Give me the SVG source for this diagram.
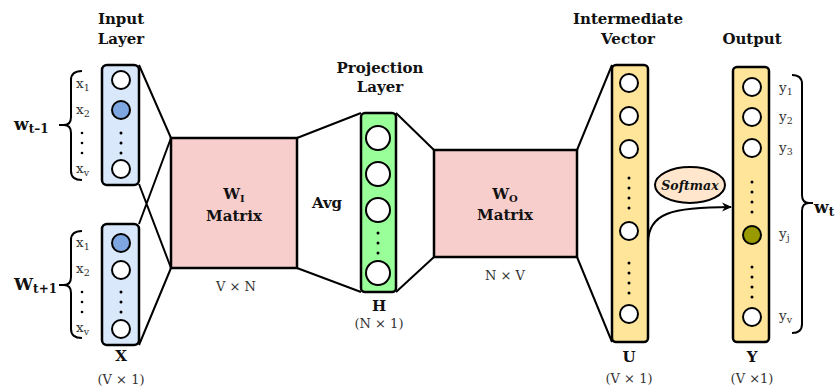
<svg xmlns="http://www.w3.org/2000/svg" width="839" height="391" viewBox="0 0 839 391">
<style>
.hd{font-family:"DejaVu Serif",serif;font-weight:bold;font-size:15px;fill:#111;text-anchor:middle}
.lb{font-family:"DejaVu Serif",serif;font-size:13px;fill:#333;text-anchor:middle}
.lbl{font-family:"DejaVu Serif",serif;font-size:13.5px;fill:#333}
.sub{font-size:9.5px}
.bx{stroke:#000;stroke-width:2.5}
.ln{stroke:#000;stroke-width:2;fill:none}
.c{fill:#fff;stroke:#000;stroke-width:2}
.dot{fill:#000}
.br{fill:none;stroke:#000;stroke-width:2}
</style>
<defs>
<marker id="ah" markerWidth="10" markerHeight="10" refX="9" refY="5" orient="auto" markerUnits="userSpaceOnUse">
<path d="M0,0.5 L10,5 L0,9.5 L3,5 Z" fill="#000"/>
</marker>
</defs>

<g id="connectors">
<path class="ln" d="M139,65 L171,138 M139,184 L171,268 M139,224 L171,138 M139,345 L171,268"/>
<path class="ln" d="M297,138 L361,113 M297,268 L361,292"/>
<path class="ln" d="M396,113 L434,150 M396,292 L434,257"/>
<path class="ln" d="M577,150 L612,65 M577,257 L612,342"/>
<path class="ln" d="M648,243 C648,213 672,207 731,207" marker-end="url(#ah)"/>
</g>

<g id="input-layer">
<text class="hd" x="121" y="24">Input</text>
<text class="hd" x="121" y="44">Layer</text>
</g>

<g id="input1">
<rect class="bx" x="102" y="65" width="37" height="120" rx="5" fill="#dae8fc"/>
<circle class="c" cx="121" cy="80" r="9"/>
<circle class="c" cx="121" cy="110" r="9" style="fill:#7ea6e0"/>
<circle class="dot" cx="121" cy="133" r="1.5"/><circle class="dot" cx="121" cy="143" r="1.5"/><circle class="dot" cx="121" cy="153" r="1.5"/>
<circle class="c" cx="121" cy="169" r="9"/>
<text class="lbl" x="76" y="88">x<tspan class="sub" dy="3">1</tspan></text>
<text class="lbl" x="76" y="114">x<tspan class="sub" dy="3">2</tspan></text>
<circle class="dot" cx="82" cy="133" r="1.3"/><circle class="dot" cx="82" cy="143" r="1.3"/><circle class="dot" cx="82" cy="153" r="1.3"/>
<text class="lbl" x="76" y="173">x<tspan class="sub" dy="3">v</tspan></text>
<path class="br" d="M82,71 Q71,71 71,80 L71,117 Q71,125 64,125 Q71,125 71,133 L71,171 Q71,180 82,180 M59,125 L66,125"/>
<text x="14" y="130" style="font-family:'DejaVu Serif',serif;font-weight:bold;font-size:17px;fill:#111">w<tspan dy="3" style="font-size:12px">t–1</tspan></text>
</g>

<g id="input2">
<rect class="bx" x="102" y="224" width="37" height="121" rx="5" fill="#dae8fc"/>
<circle class="c" cx="121" cy="243" r="9" style="fill:#7ea6e0"/>
<circle class="c" cx="121" cy="270" r="9"/>
<circle class="dot" cx="121" cy="292" r="1.5"/><circle class="dot" cx="121" cy="302" r="1.5"/><circle class="dot" cx="121" cy="312" r="1.5"/>
<circle class="c" cx="121" cy="329" r="9"/>
<text class="lbl" x="76" y="247">x<tspan class="sub" dy="3">1</tspan></text>
<text class="lbl" x="76" y="273">x<tspan class="sub" dy="3">2</tspan></text>
<circle class="dot" cx="82" cy="292" r="1.3"/><circle class="dot" cx="82" cy="302" r="1.3"/><circle class="dot" cx="82" cy="312" r="1.3"/>
<text class="lbl" x="76" y="332">x<tspan class="sub" dy="3">v</tspan></text>
<path class="br" d="M82,231 Q71,231 71,240 L71,277 Q71,285 64,285 Q71,285 71,293 L71,329 Q71,338 82,338 M59,285 L66,285"/>
<text x="14" y="290" style="font-family:'DejaVu Serif',serif;font-weight:bold;font-size:17px;fill:#111">W<tspan dy="3" style="font-size:12px">t+1</tspan></text>
<text class="hd" x="121" y="361">X</text>
<text class="lb" x="121" y="384">(V × 1)</text>
</g>

<g id="wi-matrix">
<rect x="171" y="138" width="126" height="130" fill="#f8cecc" stroke="#000" stroke-width="2.5"/>
<text class="hd" x="234" y="199">W<tspan dy="3" style="font-size:10px">I</tspan></text>
<text class="hd" x="234" y="221">Matrix</text>
<text class="lb" x="236" y="291">V × N</text>
</g>

<g id="avg">
<text class="hd" x="327" y="208">Avg</text>
</g>

<g id="projection">
<text class="hd" x="380" y="73">Projection</text>
<text class="hd" x="380" y="92">Layer</text>
<rect class="bx" x="361" y="113" width="35" height="179" rx="4" fill="#99ff99"/>
<circle class="c" cx="378" cy="138" r="12"/>
<circle class="c" cx="378" cy="174" r="12"/>
<circle class="c" cx="378" cy="210" r="12"/>
<circle class="dot" cx="378" cy="233" r="1.5"/><circle class="dot" cx="378" cy="243" r="1.5"/><circle class="dot" cx="378" cy="253" r="1.5"/>
<circle class="c" cx="378" cy="273" r="12"/>
<text class="hd" x="379" y="311">H</text>
<text class="lb" x="379" y="328">(N × 1)</text>
</g>

<g id="wo-matrix">
<rect x="434" y="150" width="143" height="107" fill="#f8cecc" stroke="#000" stroke-width="2.5"/>
<text class="hd" x="505" y="199">W<tspan dy="3" style="font-size:10px">O</tspan></text>
<text class="hd" x="505" y="220">Matrix</text>
<text class="lb" x="505" y="280">N × V</text>
</g>

<g id="intermediate">
<text class="hd" x="628" y="24">Intermediate</text>
<text class="hd" x="628" y="44">Vector</text>
<rect class="bx" x="612" y="65" width="36" height="277" rx="4" fill="#ffe599"/>
<circle class="c" cx="629" cy="83" r="9"/>
<circle class="c" cx="629" cy="116" r="9"/>
<circle class="c" cx="629" cy="149" r="9"/>
<circle class="dot" cx="629" cy="178" r="1.5"/><circle class="dot" cx="629" cy="188" r="1.5"/><circle class="dot" cx="629" cy="198" r="1.5"/><circle class="dot" cx="629" cy="208" r="1.5"/>
<circle class="c" cx="629" cy="231" r="9"/>
<circle class="dot" cx="629" cy="263" r="1.5"/><circle class="dot" cx="629" cy="273" r="1.5"/><circle class="dot" cx="629" cy="283" r="1.5"/><circle class="dot" cx="629" cy="293" r="1.5"/>
<circle class="c" cx="629" cy="314" r="9"/>
<text class="hd" x="629" y="362">U</text>
<text class="lb" x="629" y="383">(V × 1)</text>
</g>

<g id="softmax">
<ellipse cx="690" cy="185" rx="35" ry="18" fill="#ffe6cc" stroke="#000" stroke-width="2"/>
<text x="690" y="190" style="font-family:'DejaVu Serif',serif;font-weight:bold;font-style:italic;font-size:12.5px;fill:#111;text-anchor:middle">Softmax</text>
</g>

<g id="output">
<text class="hd" x="752" y="44">Output</text>
<rect class="bx" x="733" y="67" width="36" height="275" rx="4" fill="#ffe599"/>
<circle class="c" cx="752" cy="87" r="9"/>
<circle class="c" cx="752" cy="117" r="9"/>
<circle class="c" cx="752" cy="148" r="9"/>
<circle class="dot" cx="752" cy="182" r="1.5"/><circle class="dot" cx="752" cy="192" r="1.5"/><circle class="dot" cx="752" cy="202" r="1.5"/><circle class="dot" cx="752" cy="212" r="1.5"/>
<circle class="c" cx="752" cy="235" r="9" style="fill:#999900"/>
<circle class="dot" cx="752" cy="267" r="1.5"/><circle class="dot" cx="752" cy="277" r="1.5"/><circle class="dot" cx="752" cy="287" r="1.5"/><circle class="dot" cx="752" cy="297" r="1.5"/>
<circle class="c" cx="752" cy="317" r="9"/>
<text class="lbl" x="779" y="92">y<tspan class="sub" dy="3">1</tspan></text>
<text class="lbl" x="779" y="121">y<tspan class="sub" dy="3">2</tspan></text>
<text class="lbl" x="779" y="152">y<tspan class="sub" dy="3">3</tspan></text>
<text class="lbl" x="779" y="238">y<tspan class="sub" dy="3">j</tspan></text>
<text class="lbl" x="779" y="320">y<tspan class="sub" dy="3">v</tspan></text>
<path class="br" d="M792,75 Q802,75 802,84 L802,195 Q802,203 809,203 Q802,203 802,211 L802,324 Q802,333 792,333 M807,203 L813,203"/>
<text x="814" y="213" style="font-family:'DejaVu Serif',serif;font-weight:bold;font-size:17px;fill:#111">w<tspan dy="3" style="font-size:12px">t</tspan></text>
<text class="hd" x="752" y="362">Y</text>
<text class="lb" x="752" y="383">(V ×1)</text>
</g>
</svg>
